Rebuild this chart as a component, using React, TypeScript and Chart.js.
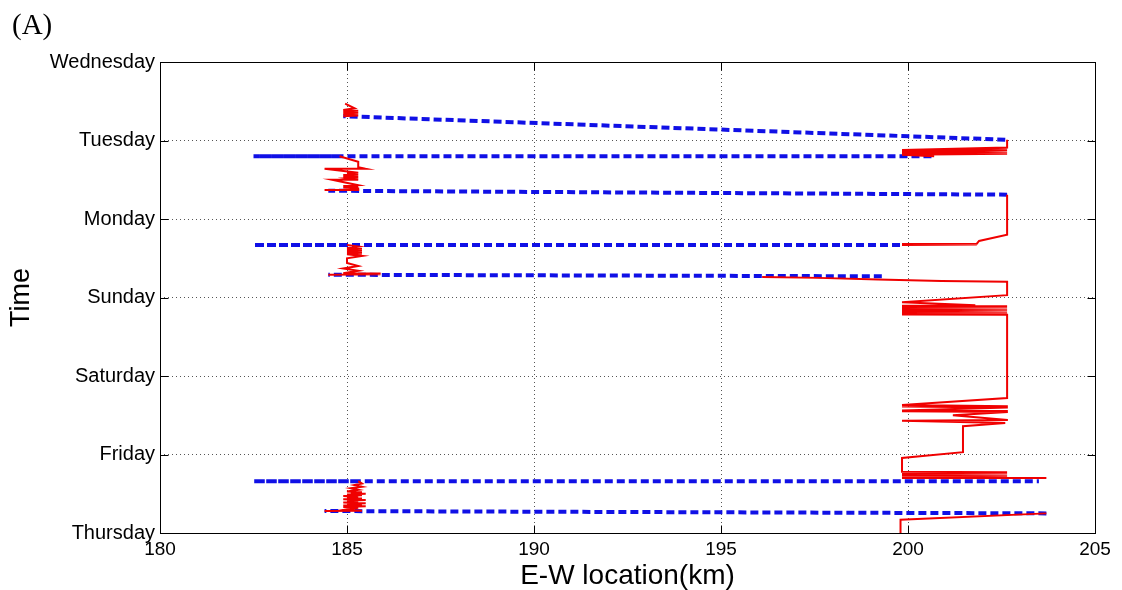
import React, { useEffect, useRef } from "react";
import { Chart, registerables } from "chart.js";

Chart.register(...registerables);

// Tick labels
const dayLabels = ["Thursday", "Friday", "Saturday", "Sunday", "Monday", "Tuesday", "Wednesday"];
const xMin = 180;
const xMax = 205;
const xStep = 5;

// Red traces: [E-W location (km), time (days since Thursday)]
const redTrace1 = [[199.8, 0], [199.8, 0.17], [203.7, 0.25]];
const redTrace2 = [
  [184.4, 0.28], [185.4, 0.285], [185.0, 0.3], [185.3, 0.32], [184.9, 0.33], [185.5, 0.34],
  [184.9, 0.35], [185.4, 0.36], [185.0, 0.37], [185.5, 0.38], [184.9, 0.39], [185.3, 0.4],
  [185.0, 0.41], [185.5, 0.42], [184.9, 0.43], [185.4, 0.44], [185.0, 0.45], [185.3, 0.46],
  [184.9, 0.47], [185.4, 0.48], [185.0, 0.49], [185.5, 0.5], [185.1, 0.51], [185.4, 0.52],
  [185.0, 0.53], [185.3, 0.55], [185.1, 0.57], [185.4, 0.59], [185.2, 0.61], [185.4, 0.63], [185.3, 0.66],
];
const redTrace3 = [
  [203.7, 0.7], [199.84, 0.7], [202.65, 0.705], [199.84, 0.71], [202.65, 0.715], [200.5, 0.72],
  [202.65, 0.725], [201.3, 0.73], [202.65, 0.735], [199.84, 0.74], [202.65, 0.745], [201.0, 0.75],
  [202.65, 0.755], [199.84, 0.76], [202.65, 0.765], [201.3, 0.77], [202.65, 0.775], [199.84, 0.78],
  [199.84, 0.955], [201.47, 1.03], [201.47, 1.36], [202.6, 1.4], [199.84, 1.43], [202.67, 1.44],
  [201.2, 1.5], [202.67, 1.54], [199.84, 1.55], [202.67, 1.555], [199.84, 1.56], [202.67, 1.6],
  [199.84, 1.61], [202.67, 1.615], [199.84, 1.63], [202.65, 1.72],
  [202.65, 2.78], [199.84, 2.785], [202.65, 2.79], [199.84, 2.795], [202.65, 2.8], [199.84, 2.805],
  [202.65, 2.81], [199.84, 2.815], [202.65, 2.82], [199.84, 2.825], [202.65, 2.83], [199.84, 2.835],
  [202.65, 2.84], [199.84, 2.845], [202.65, 2.85], [199.84, 2.855], [202.65, 2.86], [199.84, 2.865],
  [202.65, 2.87], [199.84, 2.875], [202.65, 2.88], [199.84, 2.885], [202.65, 2.89], [199.84, 2.895],
  [201.8, 2.9], [199.84, 2.94], [202.65, 3.03], [202.65, 3.2], [200.9, 3.21], [199.2, 3.23],
  [197.6, 3.25], [196.1, 3.26],
];
const redTrace4 = [
  [184.5, 3.29], [185.9, 3.295], [184.9, 3.3], [185.9, 3.305], [184.9, 3.31], [185.3, 3.34],
  [184.9, 3.37], [185.3, 3.4], [185.0, 3.44], [185.0, 3.5], [185.4, 3.53], [185.0, 3.55],
  [185.4, 3.56], [185.0, 3.57], [185.4, 3.58], [185.0, 3.59], [185.4, 3.6], [185.0, 3.61],
  [185.4, 3.62], [185.0, 3.63], [185.3, 3.65], [185.0, 3.67],
];
const redTrace5 = [[199.84, 3.67], [201.84, 3.675], [199.84, 3.68], [201.84, 3.685], [201.9, 3.72], [202.65, 3.8], [202.65, 4.31]];
const redTrace6 = [
  [184.4, 4.37], [185.3, 4.37], [185.3, 4.39], [184.9, 4.4], [185.3, 4.41], [184.9, 4.42],
  [185.3, 4.43], [184.6, 4.5], [185.3, 4.5], [185.0, 4.52], [185.3, 4.53], [184.9, 4.54],
  [185.3, 4.55], [184.9, 4.56], [185.3, 4.57], [185.0, 4.58], [185.3, 4.59], [184.4, 4.64],
  [185.5, 4.64], [185.3, 4.66], [185.3, 4.73], [184.8, 4.8],
];
const redTrace7 = [
  [200.7, 4.8], [199.84, 4.82], [202.65, 4.83], [199.84, 4.835], [202.65, 4.845], [199.84, 4.845],
  [202.65, 4.86], [199.84, 4.855], [202.65, 4.87], [199.84, 4.865], [202.65, 4.88], [199.84, 4.875],
  [202.65, 4.895], [199.84, 4.88], [202.65, 4.91], [202.65, 5.01],
];
const redTrace8 = [
  [184.9, 5.31], [185.3, 5.32], [184.9, 5.33], [185.3, 5.34], [184.9, 5.35], [185.3, 5.36],
  [184.9, 5.37], [185.3, 5.38], [184.9, 5.39], [185.2, 5.41], [184.95, 5.47],
];

// Blue dashed trips
const blueTrip1 = [[203.7, 0.25], [184.4, 0.28]];
const blueTrip2 = [[185.3, 0.66], [182.5, 0.66], [203.5, 0.66]];
const blueTrip3 = [[199.3, 3.27], [184.5, 3.29]];
const blueTrip4 = [[185.0, 3.67], [182.5, 3.67], [199.8, 3.67]];
const blueTrip5 = [[202.65, 4.31], [184.5, 4.36]];
const blueTrip6 = [[184.8, 4.8], [182.5, 4.8], [200.7, 4.8]];
const blueTrip7 = [[202.6, 5.01], [184.9, 5.31]];

const redTraces = [redTrace1, redTrace2, redTrace3, redTrace4, redTrace5, redTrace6, redTrace7, redTrace8];
const blueTrips = [blueTrip1, blueTrip2, blueTrip3, blueTrip4, blueTrip5, blueTrip6, blueTrip7];

const toPts = (arr: number[][]) => arr.map(([x, y]) => ({ x, y }));

const FONT = "'Liberation Sans', Arial, Helvetica, sans-serif";

const framePlugin = {
  id: "frame",
  afterDatasetsDraw(chart: any) {
    const { ctx, chartArea, scales } = chart;
    const l = Math.round(chartArea.left) + 0.5;
    const r = Math.round(chartArea.right) + 0.5;
    const t = Math.round(chartArea.top) + 0.5;
    const b = Math.round(chartArea.bottom) + 0.5;
    ctx.save();
    ctx.strokeStyle = "#000";
    ctx.lineWidth = 1;
    ctx.setLineDash([]);
    ctx.strokeRect(l, t, r - l, b - t);
    const tl = 8;
    ctx.beginPath();
    scales.x.ticks.forEach((tk: any) => {
      const px = Math.round(scales.x.getPixelForValue(tk.value)) + 0.5;
      ctx.moveTo(px, b); ctx.lineTo(px, b - tl);
      ctx.moveTo(px, t); ctx.lineTo(px, t + tl);
    });
    scales.y.ticks.forEach((tk: any) => {
      const py = Math.round(scales.y.getPixelForValue(tk.value)) + 0.5;
      ctx.moveTo(l, py); ctx.lineTo(l + tl, py);
      ctx.moveTo(r, py); ctx.lineTo(r - tl, py);
    });
    ctx.stroke();
    ctx.restore();
  },
};

export default function App() {
  const ref = useRef<HTMLCanvasElement | null>(null);

  useEffect(() => {
    if (!ref.current) return;
    const datasets: any[] = [];
    blueTrips.forEach((trip, i) => {
      datasets.push({
        label: "trip" + (i + 1),
        data: toPts(trip),
        showLine: true,
        borderColor: "#1010e6",
        borderWidth: 4,
        borderDash: [8, 4],
        pointRadius: 0,
        fill: false,
        order: 2,
      });
    });
    redTraces.forEach((tr, i) => {
      datasets.push({
        label: "trace" + (i + 1),
        data: toPts(tr),
        showLine: true,
        borderColor: "#f00000",
        borderWidth: 2,
        pointRadius: 0,
        fill: false,
        order: 1,
      });
    });

    const chart = new Chart(ref.current, {
      type: "scatter",
      data: { datasets },
      options: {
        responsive: false,
        animation: false,
        layout: { padding: { left: 0, top: 62, right: 27, bottom: 0 } },
        plugins: { legend: { display: false }, tooltip: { enabled: false } },
        scales: {
          x: {
            type: "linear",
            min: xMin,
            max: xMax,
            ticks: {
              stepSize: xStep,
              padding: 5,
              color: "#000",
              font: { family: FONT, size: 19 },
              maxRotation: 0,
            },
            grid: { color: "#555", lineWidth: 1, drawTicks: false },
            border: { display: false, dash: [1, 3] },
            title: {
              display: true,
              text: "E-W location(km)",
              color: "#000",
              font: { family: FONT, size: 28, lineHeight: 1 },
              padding: { top: 0, bottom: 0 },
            },
            afterFit: (s: any) => { s.height = 57; },
          },
          y: {
            type: "linear",
            min: 0,
            max: dayLabels.length - 1,
            ticks: {
              stepSize: 1,
              padding: 5,
              color: "#000",
              font: { family: FONT, size: 20 },
              callback: (v: any) => dayLabels[Math.round(Number(v))] ?? "",
            },
            grid: { color: "#555", lineWidth: 1, drawTicks: false },
            border: { display: false, dash: [1, 3] },
            title: {
              display: true,
              text: "Time",
              color: "#000",
              font: { family: FONT, size: 27, lineHeight: 1 },
              padding: { top: 8, bottom: 0 },
            },
            afterFit: (s: any) => { s.width = 160; },
          },
        },
      },
      plugins: [framePlugin],
    } as any);
    return () => chart.destroy();
  }, []);

  return (
    <div style={{ position: "fixed", left: 0, top: 0, width: 1122, height: 590, background: "#fff" }}>
      <canvas ref={ref} width={1122} height={590} style={{ position: "absolute", left: 0, top: 0, display: "block" }} />
      <div
        style={{
          position: "absolute",
          left: 12,
          top: 10,
          fontFamily: "'Liberation Serif', 'Times New Roman', serif",
          fontSize: 29,
          lineHeight: 1,
          color: "#000",
        }}
      >
        (A)
      </div>
    </div>
  );
}
